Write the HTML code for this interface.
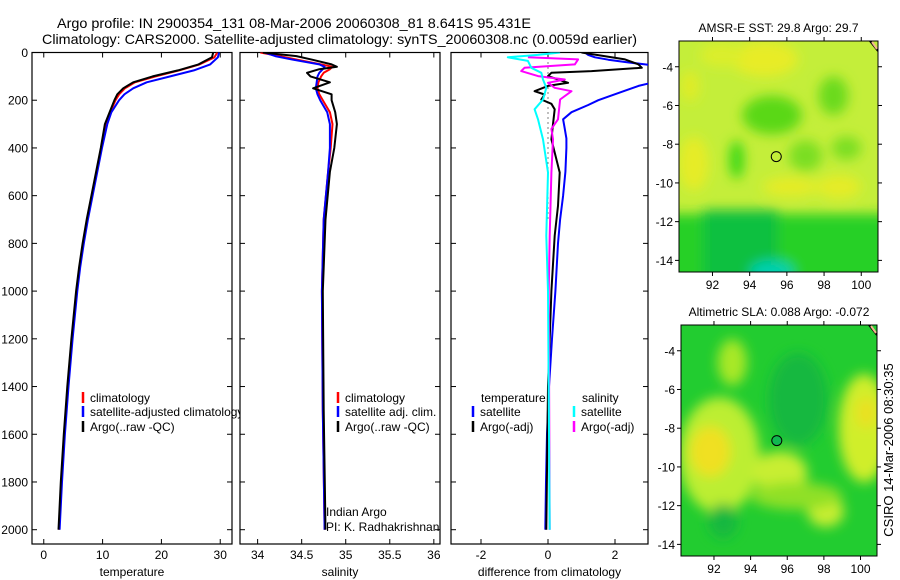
<!DOCTYPE html>
<html><head><meta charset="utf-8"><style>
html,body{margin:0;padding:0;background:#fff;}
svg{display:block;font-family:"Liberation Sans",sans-serif;}
</style></head><body>
<svg id="chart" width="900" height="580" viewBox="0 0 900 580" xmlns="http://www.w3.org/2000/svg">
<defs>
<clipPath id="cp1"><rect x="32" y="52.5" width="200" height="491.5"/></clipPath>
<clipPath id="cp1l"><rect x="32" y="52.5" width="208" height="491.5"/></clipPath>
<clipPath id="cp2"><rect x="240" y="52.5" width="200" height="491.5"/></clipPath>
<clipPath id="cp3"><rect x="451" y="52.5" width="197" height="491.5"/></clipPath>
<clipPath id="cm1"><rect x="679" y="41" width="199" height="231"/></clipPath>
<clipPath id="cm2"><rect x="681" y="325" width="196" height="231"/></clipPath>
<filter id="bl" x="-20%" y="-20%" width="140%" height="140%"><feGaussianBlur stdDeviation="6"/></filter>
</defs>
<g id="titles">
<text x="57" y="28" font-size="14" textLength="474" lengthAdjust="spacingAndGlyphs">Argo profile: IN 2900354_131 08-Mar-2006 20060308_81 8.641S 95.431E</text>
<text x="42" y="44" font-size="14" textLength="595" lengthAdjust="spacingAndGlyphs">Climatology: CARS2000. Satellite-adjusted climatology: synTS_20060308.nc (0.0059d earlier)</text>
</g>
<g id="panels"></g>
<g id="maps"></g>
<text transform="translate(893,450) rotate(-90)" font-size="13" text-anchor="middle">CSIRO 14-Mar-2006 08:30:35</text>
</svg>
<script>
// ---- data ----
const depthTicks = [0,200,400,600,800,1000,1200,1400,1600,1800,2000];
const tempTicks = [0,10,20,30];
const salTicks = [34,34.5,35,35.5,36];
const salTickLabels = ["34","34.5","35","35.5","36"];
const diffTicks = [-2,0,2];

const tDepth = [0,20,50,75,100,125,150,175,200,250,300,400,500,600,700,800,900,1000,1200,1400,1600,1800,2000];
const tempClim = [29.5,29.0,26.5,23,19,15.5,13.8,12.8,12.2,11.3,10.6,9.8,9.0,8.2,7.4,6.7,6.1,5.6,4.8,4.1,3.5,3.0,2.6];
const tempSat = [29.8,29.6,28.3,25.5,21.5,17.5,15.2,13.7,12.8,11.5,10.8,9.9,9.1,8.3,7.5,6.8,6.2,5.7,4.9,4.2,3.6,3.1,2.7];
const tempArgo = [28.8,28.6,26.3,22.8,18.5,15.2,13.5,12.5,12.0,11.2,10.4,9.7,8.9,8.1,7.3,6.6,6.0,5.5,4.7,4.0,3.4,2.9,2.5];

const sDepth = [0,15,30,50,60,70,85,100,125,150,175,200,250,300,400,500,700,1000,1500,2000];
const salClim = [34.03,34.25,34.45,34.72,34.85,34.82,34.75,34.72,34.69,34.68,34.70,34.74,34.82,34.85,34.83,34.80,34.75,34.73,34.74,34.76];
const salSat = [34.08,34.20,34.40,34.70,34.76,34.74,34.70,34.68,34.67,34.66,34.68,34.71,34.79,34.82,34.82,34.80,34.75,34.73,34.74,34.76];
const salArgo = [34.06,34.44,34.62,34.84,34.90,34.70,34.56,34.60,34.82,34.63,34.84,34.84,34.88,34.90,34.87,34.82,34.77,34.74,34.75,34.77];

const dDepthTS = [0,10,20,30,40,50,60,70,85,100,120,140,160,180,200,220,250,280,320,360,400,500,600,700,800,1000,1200,1400,1600,1800,2000];
const diffTempSat = [1.1,1.2,1.4,1.8,2.3,2.9,3.5,4,4,4,3.3,2.7,2.3,1.9,1.5,1.2,0.7,0.45,0.5,0.55,0.55,0.52,0.45,0.36,0.3,0.22,0.12,0.03,-0.03,-0.06,-0.08];
const dDepthTA = [0,29,50,64,78,85,99,113,127,140,162,176,197,215,238,300,364,503,643,768,1000,1400,2000];
const diffTempArgo = [1.0,2.3,2.7,2.8,1.3,0.1,0.0,0.3,0.6,0.0,-0.4,-0.1,-0.2,0.1,0.2,0.15,0.1,0.35,0.3,0.2,0.1,0.0,-0.05];
const dDepthSA = [20,29,50,64,78,99,113,127,148,162,197,280,320,364,503,768,1000,2000];
const diffSalArgo = [-0.6,0.9,0.8,-0.7,-0.8,-0.3,0.5,0.0,0.2,0.7,0.36,0.3,0.1,0.15,0.1,0.05,0.02,0.05];
const dDepthSS = [0,10,20,35,64,85,113,148,197,238,280,364,503,768,1000,2000];
const diffSalSat = [0.36,-0.3,-1.2,-0.6,-0.5,-0.2,-0.15,-0.05,-0.15,-0.4,-0.3,-0.15,0.0,-0.05,0.0,0.05];

const latTicks = [-4,-6,-8,-10,-12,-14];
const lonTicks = [92,94,96,98,100];
const argoLon = 95.43, argoLat = -8.64;

// ---- helpers ----
const NS = "http://www.w3.org/2000/svg";
function mk(tag, attrs, parent){ const e=document.createElementNS(NS,tag); for(const k in attrs) e.setAttribute(k,attrs[k]); parent.appendChild(e); return e; }
const yD = d => 52.5 + d*0.2386;
const panels = document.getElementById('panels');

function panel(name, x0, w, xs, ticks, labels, xlabel, showY){
  const g = mk('g',{},panels);
  
  
  const r = mk('rect',{x:x0,y:52.5,width:w,height:491.5,fill:'none',stroke:'#000','stroke-width':1.2},g);
  
  
  depthTicks.forEach(d=>{
    const y=yD(d);
    mk('line',{x1:x0,x2:x0+5,y1:y,y2:y,stroke:'#000'},g);
    mk('line',{x1:x0+w-5,x2:x0+w,y1:y,y2:y,stroke:'#000'},g);
    if(showY){ const t=mk('text',{x:x0-4,y:y+4.5,'font-size':12,'text-anchor':'end'},g); t.textContent=d;
      
       }
  });
  ticks.forEach((v,i)=>{
    const x=xs(v);
    mk('line',{x1:x,x2:x,y1:544,y2:539,stroke:'#000'},g);
    mk('line',{x1:x,x2:x,y1:52.5,y2:57.5,stroke:'#000'},g);
    const t=mk('text',{x:x,y:559,'font-size':12,'text-anchor':'middle'},g); t.textContent=labels[i];
    
    
  });
  const xl=mk('text',{x:x0+w/2,y:576,'font-size':12,'text-anchor':'middle'},g); xl.textContent=xlabel;
  
  
  return g;
}
function series(g, clip, name, depths, vals, xs, color){
  const d = vals.map((v,i)=>(i?'L':'M')+xs(v).toFixed(1)+','+yD(depths[i]).toFixed(1)).join('');
  const p = mk('path',{d:d,fill:'none',stroke:color,'stroke-width':2,'clip-path':'url(#'+clip+')','stroke-linejoin':'round'},g);
  
  
}
function legend(g, x, y, color, text, name, clip){
  mk('line',{x1:x,x2:x,y1:y-6,y2:y+5,stroke:color,'stroke-width':2.5},g);
  const t=mk('text',{x:x+7,y:y+4,'font-size':12},g); t.textContent=text;
  if(clip) t.setAttribute('clip-path','url(#'+clip+')');
  
  
}

// Panel 1 temperature
const xT = v => 32 + (v+2)*(200/34);
const g1 = panel('temperature-panel',32,200,xT,tempTicks,tempTicks.map(String),'temperature',true);
series(g1,'cp1','temp-climatology-line',tDepth,tempClim,xT,'#f00');
series(g1,'cp1','temp-satellite-line',tDepth,tempSat,xT,'#00f');
series(g1,'cp1','temp-argo-line',tDepth,tempArgo,xT,'#000');
legend(g1,83,398,'#f00','climatology','legend-climatology');
legend(g1,83,412,'#00f','satellite-adjusted climatology','legend-satellite-adjusted','cp1l');
legend(g1,83,427,'#000','Argo(..raw -QC)','legend-argo');

// Panel 2 salinity
const xS = v => 240 + (v-33.8)*(200/2.27);
const g2 = panel('salinity-panel',240,200,xS,salTicks,salTickLabels,'salinity',false);
series(g2,'cp2','sal-climatology-line',sDepth,salClim,xS,'#f00');
series(g2,'cp2','sal-satellite-line',sDepth,salSat,xS,'#00f');
series(g2,'cp2','sal-argo-line',sDepth,salArgo,xS,'#000');
legend(g2,338,398,'#f00','climatology','legend-sal-climatology');
legend(g2,338,412,'#00f','satellite adj. clim.','legend-sal-satellite');
legend(g2,338,427,'#000','Argo(..raw -QC)','legend-sal-argo');
const ia=mk('text',{x:326,y:516,'font-size':12},g2); ia.textContent='Indian Argo';


const pi=mk('text',{x:326,y:531,'font-size':12},g2); pi.textContent='PI: K. Radhakrishnan';



// Panel 3 difference
const xD = v => 548 + v*33.5;
const g3 = panel('difference-panel',451,197,xD,diffTicks,diffTicks.map(String),'difference from climatology',false);
mk('line',{x1:548,x2:548,y1:52.5,y2:yD(700),stroke:'#000','stroke-width':1,'stroke-dasharray':'1,4'},g3);
series(g3,'cp3','diff-temp-satellite-line',dDepthTS,diffTempSat,xD,'#00f');
series(g3,'cp3','diff-temp-argo-line',dDepthTA,diffTempArgo,xD,'#000');
series(g3,'cp3','diff-sal-argo-line',dDepthSA,diffSalArgo,xD,'#f0f');
series(g3,'cp3','diff-sal-satellite-line',dDepthSS,diffSalSat,xD,'#0ff');
const tt=mk('text',{x:481,y:402,'font-size':12},g3); tt.textContent='temperature';


const st=mk('text',{x:582,y:402,'font-size':12},g3); st.textContent='salinity';


legend(g3,473,412,'#00f','satellite','legend-diff-temp-satellite');
legend(g3,473,427,'#000','Argo(-adj)','legend-diff-temp-argo');
legend(g3,574,412,'#0ff','satellite','legend-diff-sal-satellite');
legend(g3,574,427,'#f0f','Argo(-adj)','legend-diff-sal-argo');

// ---- maps ----
const maps = document.getElementById('maps');
function mapPanel(name, x0, y0, w, h, clip, title, bg, blobs, filled){
  const lx = lon => x0 + (lon-90.2)*(w/10.7);
  const ly = lat => y0 + (-2.67-lat)*(h/11.93);
  const g = mk('g',{},maps);
  
  
  const cg = mk('g',{'clip-path':'url(#'+clip+')'},g);
  mk('rect',{x:x0,y:y0,width:w,height:h,fill:bg},cg);
  const bg2 = mk('g',{filter:'url(#bl)'},cg);
  blobs.forEach(b=>{
    if(b.rect) mk('rect',{x:lx(b.lon0),y:ly(b.lat0),width:lx(b.lon1)-lx(b.lon0),height:ly(b.lat1)-ly(b.lat0),fill:b.c},bg2);
    else mk('ellipse',{cx:lx(b.lon),cy:ly(b.lat),rx:b.rx*(w/10.7),ry:b.ry*(h/11.93),fill:b.c},bg2);
  });
  mk('path',{d:`M${x0+w-8},${y0}L${x0+w},${y0+10}`,stroke:'#000','stroke-width':2,fill:'none'},cg);
  mk('path',{d:`M${x0+w-6},${y0+1}L${x0+w-1},${y0+8}`,stroke:'#f4b890','stroke-width':2,fill:'none'},cg);
  const c = mk('circle',{cx:lx(argoLon),cy:ly(argoLat),r:5,fill:filled||'none',stroke:'#000','stroke-width':1},g);
  
  
  mk('rect',{x:x0,y:y0,width:w,height:h,fill:'none',stroke:'#000','stroke-width':1},g);
  latTicks.forEach(v=>{
    const y=ly(v);
    mk('line',{x1:x0-4,x2:x0,y1:y,y2:y,stroke:'#000'},g);
    mk('line',{x1:x0+w,x2:x0+w+4,y1:y,y2:y,stroke:'#000'},g);
    const t=mk('text',{x:x0-6,y:y+4.5,'font-size':12,'text-anchor':'end'},g); t.textContent=v;
    
    
  });
  lonTicks.forEach(v=>{
    const x=lx(v);
    mk('line',{x1:x,x2:x,y1:y0+h,y2:y0+h+4,stroke:'#000'},g);
    mk('line',{x1:x,x2:x,y1:y0-4,y2:y0,stroke:'#000'},g);
    const t=mk('text',{x:x,y:y0+h+17,'font-size':12,'text-anchor':'middle'},g); t.textContent=v;
    
    
  });
  const tl=mk('text',{x:x0+w/2,y:y0-9,'font-size':12,'text-anchor':'middle'},g); tl.textContent=title;
  
  
}
mapPanel('sst-map',679,41,199,231,'cm1','AMSR-E SST: 29.8 Argo: 29.7','#c4ee3a',[
  {lon:94.8,lat:-3.6,rx:1.8,ry:0.9,c:'#e8ec28'},
  {lon:92.5,lat:-3.4,rx:1.2,ry:0.6,c:'#dcee2c'},
  {lon:91,lat:-9,rx:0.8,ry:1.4,c:'#e6ec26'},
  {lon:90.8,lat:-5,rx:0.5,ry:0.8,c:'#e0ec28'},
  {lon:96.2,lat:-10.2,rx:1.5,ry:0.5,c:'#e6ec26'},
  {lon:98.8,lat:-10.2,rx:1.2,ry:0.6,c:'#e6ec26'},
  {lon:95.2,lat:-6.5,rx:1.6,ry:1.0,c:'#5ad818'},
  {lon:93.3,lat:-8.8,rx:0.4,ry:1.0,c:'#3ad818'},
  {lon:97,lat:-8.6,rx:0.9,ry:0.8,c:'#7ade20'},
  {lon:98.5,lat:-5.5,rx:0.8,ry:1.0,c:'#6ada1c'},
  {lon:99.2,lat:-8.2,rx:0.8,ry:0.6,c:'#7ade20'},
  {rect:1,lon0:89,lon1:102,lat0:-11.6,lat1:-16,c:'#28d028'},
  {rect:1,lon0:91.5,lon1:95.5,lat0:-11.4,lat1:-16,c:'#10c040'},
  {lon:95.2,lat:-14.6,rx:1.2,ry:0.6,c:'#00d0b0'}
]);
mapPanel('sla-map',681,325,196,231,'cm2','Altimetric SLA: 0.088 Argo: -0.072','#22cc30',[
  {lon:92.3,lat:-9.4,rx:2.2,ry:3.0,c:'#bcee30'},
  {lon:91.8,lat:-9.2,rx:1.1,ry:1.3,c:'#f0e020'},
  {lon:93,lat:-4.6,rx:0.8,ry:1.2,c:'#a8e828'},
  {lon:95.6,lat:-10.3,rx:1.5,ry:1.1,c:'#c8ee30'},
  {lon:100.2,lat:-8.0,rx:1.4,ry:2.8,c:'#d0ee2c'},
  {lon:100.3,lat:-7.2,rx:0.5,ry:0.8,c:'#ecdf20'},
  {lon:98.1,lat:-12.3,rx:1.0,ry:0.8,c:'#c8ee30'},
  {lon:96.5,lat:-11.5,rx:2.5,ry:0.7,c:'#90e028'},
  {lon:96.6,lat:-6.5,rx:1.6,ry:2.4,c:'#12b840'},
  {lon:92.5,lat:-12.8,rx:0.8,ry:0.9,c:'#18b840'}
],'#10b850');
</script>
</body></html>
